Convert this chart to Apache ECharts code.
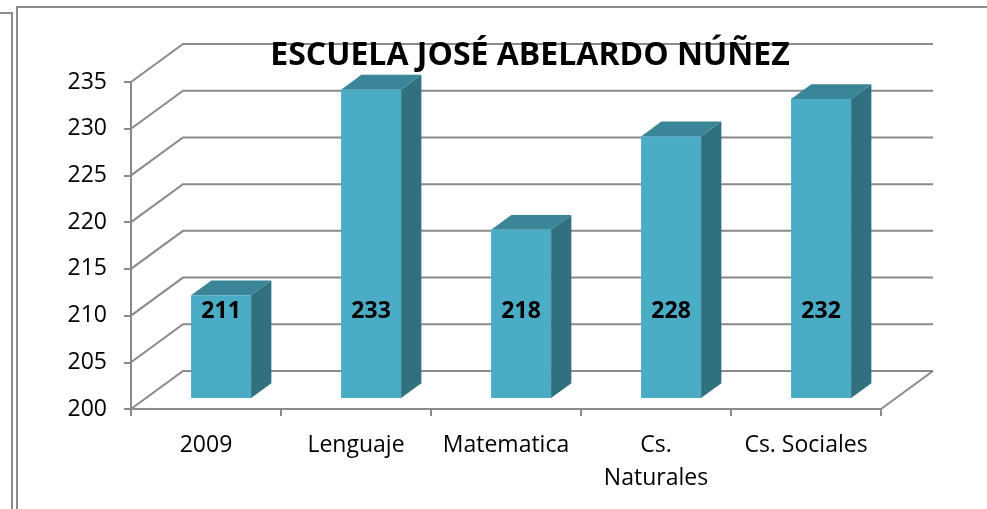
<!DOCTYPE html>
<html>
<head>
<meta charset="utf-8">
<script src="https://cdn.jsdelivr.net/npm/echarts@6/dist/echarts.min.js"></script>
<style>
  html, body { margin: 0; padding: 0; background: #fff; }
  #chart { width: 987px; height: 509px; }
</style>
</head>
<body>
<div id="chart"></div>
<script>
// datos del gráfico
const categories = ["2009", "Lenguaje", "Matematica", "Cs.\nNaturales", "Cs. Sociales"];
const scores = [211, 233, 218, 228, 232];
const yTicks = [200, 205, 210, 215, 220, 225, 230, 235];
const chartTitle = "ESCUELA JOSÉ ABELARDO NÚÑEZ";

// profundidad del efecto 3D (px)
const DX = 52, DY = -38;
const F0 = 0.29, F1 = 0.68; // posición de la barra dentro de la profundidad
const LABEL_VALUE = 209.3;  // altura de la etiqueta en la cara frontal
const GRID = "#8a8a8a";
const FONT = "'Open Sans', 'Liberation Sans', sans-serif";

const chart = echarts.init(document.getElementById("chart"));

const option = {
  backgroundColor: "#fff",
  animation: false,
  grid: { left: 131, top: 82, width: 750, height: 327, containLabel: false },
  xAxis: {
    type: "category",
    data: categories,
    boundaryGap: true,
    axisLine: { show: true, lineStyle: { color: GRID, width: 2 } },
    axisTick: { show: true, length: 7, lineStyle: { color: GRID, width: 2 } },
    axisLabel: { color: "#000", fontFamily: FONT, fontSize: 23, lineHeight: 33, margin: 20, interval: 0 },
    splitLine: { show: false }
  },
  yAxis: {
    type: "value",
    min: 200,
    max: 235,
    interval: 5,
    axisLine: { show: true, lineStyle: { color: GRID, width: 2 } },
    axisTick: { show: true, length: 7, lineStyle: { color: GRID, width: 2 } },
    axisLabel: { color: "#000", fontFamily: FONT, fontSize: 23, margin: 24 },
    splitLine: { show: false }
  },
  graphic: [
    // marcos
    { type: "polyline", shape: { points: [[0, 13], [12, 13], [12, 509]] }, style: { stroke: "#8c8c8c", lineWidth: 2, fill: null }, z: 1 },
    { type: "polyline", shape: { points: [[17, 509], [17, 7], [987, 7]] }, style: { stroke: "#8c8c8c", lineWidth: 2, fill: null }, z: 1 },
    {
      type: "text", x: 530, y: 56, z: 50,
      style: { text: chartTitle, fill: "#000", font: "bold 32px " + FONT, align: "center", verticalAlign: "middle" }
    }
  ],
  series: [
    {
      // líneas de la pared del fondo
      type: "custom",
      coordinateSystem: "cartesian2d",
      clip: false,
      z: 1,
      encode: { x: 0, y: 1 },
      data: yTicks.map(v => [0, v]),
      renderItem: function (params, api) {
        const cs = params.coordSys;
        const y = api.coord([0, api.value(1)])[1];
        const x0 = cs.x;
        const children = [{
          type: "polyline",
          shape: { points: [[x0, y], [x0 + DX, y + DY], [x0 + cs.width + DX, y + DY]] },
          style: { stroke: GRID, lineWidth: 2, fill: null }
        }];
        if (api.value(1) === yTicks[0]) {
          children.push({
            type: "line",
            shape: { x1: x0 + cs.width, y1: y, x2: x0 + cs.width + DX, y2: y + DY },
            style: { stroke: GRID, lineWidth: 2 }
          });
        }
        return { type: "group", children: children };
      }
    },
    {
      // barras 3D
      type: "custom",
      coordinateSystem: "cartesian2d",
      clip: false,
      z: 3,
      encode: { x: 0, y: 1 },
      data: scores.map((v, i) => [i, v]),
      renderItem: function (params, api) {
        const i = api.value(0);
        const base = api.coord([i, yTicks[0]]);
        const top = api.coord([i, api.value(1)]);
        const lab = api.coord([i, LABEL_VALUE]);
        const band = api.size([1, 0])[0];
        const fw = band * 0.4;
        const cx = base[0] + F0 * DX;
        const by = base[1] + F0 * DY;
        const ty = top[1] + F0 * DY;
        const ddx = (F1 - F0) * DX, ddy = (F1 - F0) * DY;
        const l = cx - fw / 2, r = cx + fw / 2;
        return {
          type: "group",
          children: [
            {
              type: "polygon",
              shape: { points: [[r, by], [r + ddx, by + ddy], [r + ddx, ty + ddy], [r, ty]] },
              style: { fill: "#31707f" }
            },
            {
              type: "polygon",
              shape: { points: [[l, ty], [r, ty], [r + ddx, ty + ddy], [l + ddx, ty + ddy]] },
              style: { fill: "#3a8598" }
            },
            {
              type: "rect",
              shape: { x: l, y: ty, width: fw, height: by - ty },
              style: { fill: "#4bacc6" }
            },
            {
              type: "text",
              x: cx, y: lab[1] + F0 * DY,
              style: { text: String(api.value(1)), fill: "#000", font: "bold 23px " + FONT, align: "center", verticalAlign: "middle" }
            }
          ]
        };
      }
    }
  ]
};

chart.setOption(option);
</script>
</body>
</html>
